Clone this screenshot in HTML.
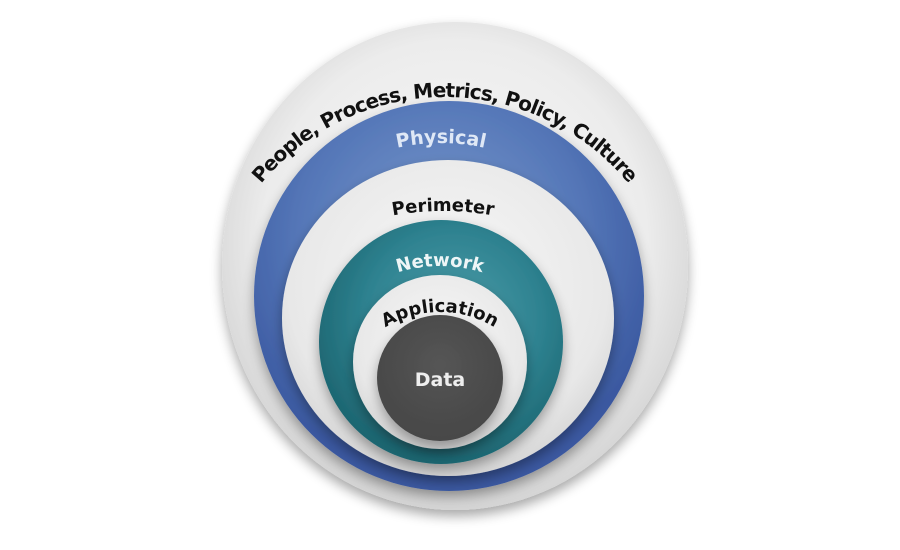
<!DOCTYPE html>
<html><head><meta charset="utf-8"><style>
html,body{margin:0;padding:0;background:#fff;width:900px;height:550px;overflow:hidden}
text{font-family:"DejaVu Sans","Liberation Sans",sans-serif;font-weight:bold}
</style></head><body>
<svg width="900" height="550" viewBox="0 0 900 550" xmlns="http://www.w3.org/2000/svg">
<defs>
<radialGradient id="gOut" cx="50%" cy="45%" r="55%"><stop offset="0" stop-color="#fafafa"/><stop offset="0.75" stop-color="#ececec"/><stop offset="1" stop-color="#d4d4d4"/></radialGradient>
<radialGradient id="gBlue" cx="48%" cy="35%" r="60%"><stop offset="0" stop-color="#7a9acc"/><stop offset="0.6" stop-color="#5577b8"/><stop offset="1" stop-color="#3a58a0"/></radialGradient>
<radialGradient id="gW" cx="50%" cy="40%" r="60%"><stop offset="0" stop-color="#f8f8f8"/><stop offset="0.8" stop-color="#e8e8e8"/><stop offset="1" stop-color="#d6d6d6"/></radialGradient>
<radialGradient id="gTeal" cx="55%" cy="40%" r="60%"><stop offset="0" stop-color="#4d9eaa"/><stop offset="0.6" stop-color="#2e8290"/><stop offset="1" stop-color="#1d6671"/></radialGradient>
<radialGradient id="gData" cx="50%" cy="40%" r="60%"><stop offset="0" stop-color="#555"/><stop offset="1" stop-color="#474747"/></radialGradient>
<filter id="sh" x="-20%" y="-20%" width="140%" height="140%"><feGaussianBlur in="SourceAlpha" stdDeviation="6"/><feOffset dy="6"/><feComponentTransfer><feFuncA type="linear" slope="0.35"/></feComponentTransfer><feMerge><feMergeNode/><feMergeNode in="SourceGraphic"/></feMerge></filter>
<path id="p1" d="M 207 335 A 238 238 0 0 1 683 335"/>
<path id="p2" d="M 241 343 A 200 200 0 0 1 641 343"/>
<path id="p3" d="M 160 494 A 283 283 0 0 1 726 494"/>
<path id="p4" d="M 298 408 A 142 142 0 0 1 582 408"/>
<path id="p5" d="M 336 416 A 104 104 0 0 1 544 416"/>
</defs>
<ellipse cx="455" cy="266" rx="233" ry="244" fill="url(#gOut)" filter="url(#sh)"/>
<circle cx="449" cy="296" r="195" fill="url(#gBlue)" filter="url(#sh)"/>
<ellipse cx="448" cy="318" rx="166" ry="158" fill="url(#gW)" filter="url(#sh)"/>
<circle cx="441" cy="342" r="122" fill="url(#gTeal)" filter="url(#sh)"/>
<circle cx="440" cy="362" r="87" fill="url(#gW)" filter="url(#sh)"/>
<circle cx="440" cy="378" r="63" fill="url(#gData)" filter="url(#sh)"/>
<text font-size="20" fill="#111"><textPath href="#p1" startOffset="50%" text-anchor="middle" textLength="420">People, Process, Metrics, Policy, Culture</textPath></text>
<text font-size="19" fill="#dfe8f6"><textPath href="#p2" startOffset="50%" text-anchor="middle">Physical</textPath></text>
<text font-size="18" fill="#111"><textPath href="#p3" startOffset="50%" text-anchor="middle">Perimeter</textPath></text>
<text font-size="18" fill="#eef6f7"><textPath href="#p4" startOffset="50%" text-anchor="middle">Network</textPath></text>
<text font-size="18" fill="#111"><textPath href="#p5" startOffset="50%" text-anchor="middle">Application</textPath></text>
<text x="440" y="386" font-size="19" fill="#eee" text-anchor="middle">Data</text>
</svg>
</body></html>
